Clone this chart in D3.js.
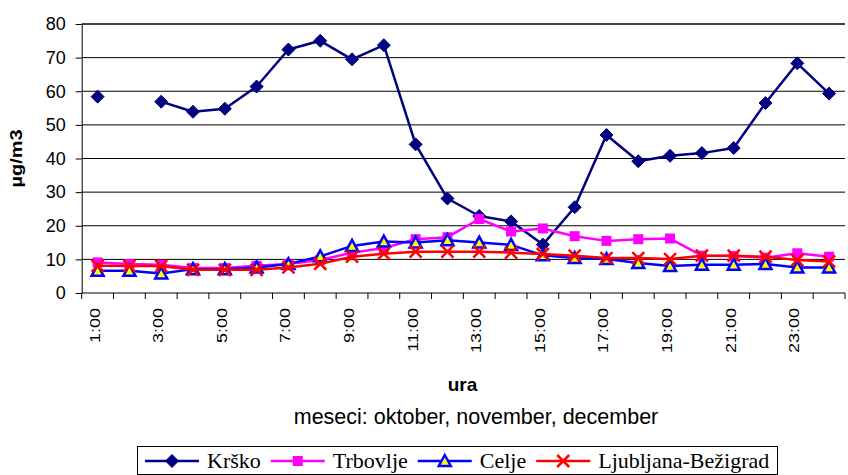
<!DOCTYPE html>
<html lang="sl">
<head>
<meta charset="utf-8">
<title>Koncentracije po urah</title>
<script src="https://cdn.jsdelivr.net/npm/d3@7/dist/d3.min.js"></script>
<style>
  body { margin: 0; background: #fff; }
  text { font-family: "Liberation Sans", Arial, sans-serif; fill: #000; }
  .grid { stroke: #000; stroke-width: 1; }
  .axis path, .axis line { stroke: #000; }
  .legend text { font-family: "Liberation Serif", "Times New Roman", serif; }
</style>
</head>
<body>
<script>
// hours on the x axis
var hours = ['1:00','2:00','3:00','4:00','5:00','6:00','7:00','8:00','9:00','10:00','11:00','12:00',
             '13:00','14:00','15:00','16:00','17:00','18:00','19:00','20:00','21:00','22:00','23:00','24:00'];

// series values (µg/m3); null = missing
var krsko = [58.4, null, 56.9, 53.9, 54.8, 61.4, 72.4, 75.0, 69.5, 73.7, 44.2, 28.1,
             22.9, 21.3, 14.4, 25.5, 47.0, 39.2, 40.8, 41.6, 43.1, 56.5, 68.3, 59.3];
var trbovlje = [9.1, 8.6, 8.4, 7.4, 7.4, 8.1, 8.6, 9.8, 12.0, 13.4, 16.0, 16.6,
                22.0, 18.3, 19.2, 16.9, 15.5, 16.0, 16.2, 11.1, 11.0, 10.5, 11.8, 10.8];
var celje = [6.6, 6.6, 5.8, 7.1, 7.1, 7.6, 8.6, 10.9, 14.0, 15.3, 15.0, 15.7,
             15.0, 14.3, 11.2, 10.4, 10.1, 8.9, 8.0, 8.4, 8.4, 8.6, 7.6, 7.6];
var ljubljana = [8.1, 8.0, 8.0, 6.9, 6.9, 6.9, 7.6, 8.7, 10.8, 11.7, 12.3, 12.3,
                 12.3, 12.0, 11.6, 11.1, 10.4, 10.4, 10.1, 11.1, 11.1, 10.8, 9.8, 9.4];

var seriesNames = ['Krško', 'Trbovlje', 'Celje', 'Ljubljana-Bežigrad'];
var yTicks = [0, 10, 20, 30, 40, 50, 60, 70, 80];

var width = 848, height = 475;
var plotLeft = 81.7, plotRight = 845, plotTop = 24, plotBottom = 293;

var series = [
  { name: seriesNames[0], values: krsko,     color: '#000080', marker: 'diamond' },
  { name: seriesNames[1], values: trbovlje,  color: '#ff00ff', marker: 'square' },
  { name: seriesNames[2], values: celje,     color: '#0000ff', marker: 'triangle' },
  { name: seriesNames[3], values: ljubljana, color: '#ff0000', marker: 'cross' }
];

var svg = d3.select('body').append('svg')
  .attr('width', width)
  .attr('height', height);

var x = d3.scaleBand().domain(hours).range([plotLeft, plotRight]).padding(0);
var y = d3.scaleLinear().domain([0, 80]).range([plotBottom, plotTop]);

// horizontal grid
svg.selectAll('.grid')
  .data(yTicks.filter(function(d){ return d > 0; }))
  .enter().append('line')
  .attr('class', 'grid')
  .attr('x1', plotLeft).attr('x2', plotRight)
  .attr('y1', function(d){ return y(d); })
  .attr('y2', function(d){ return y(d); })
  .style('stroke', function(d){ return d === 80 ? '#444' : '#000'; })
  .style('stroke-width', function(d){ return d === 80 ? 2 : 1; });

// y axis
var yAxis = svg.append('g')
  .attr('class', 'axis')
  .attr('transform', 'translate(' + plotLeft + ',0)')
  .call(d3.axisLeft(y).tickValues(yTicks).tickSize(6).tickPadding(10).tickSizeOuter(0));
yAxis.selectAll('text')
  .style('font-size', '18px')
  .style('font-family', '"Liberation Sans", Arial, sans-serif');

// x axis line + ticks at category boundaries
svg.append('line')
  .attr('x1', plotLeft).attr('x2', plotRight)
  .attr('y1', plotBottom).attr('y2', plotBottom)
  .style('stroke', '#000');
var bounds = hours.map(function(h){ return x(h); }).concat([plotRight]);
svg.selectAll('.xtick')
  .data(bounds)
  .enter().append('line')
  .attr('class', 'xtick')
  .attr('x1', function(d){ return d; }).attr('x2', function(d){ return d; })
  .attr('y1', plotBottom).attr('y2', plotBottom + 6)
  .style('stroke', '#000');

// every second hour label, rotated
svg.selectAll('.xlabel')
  .data(hours.filter(function(d, i){ return i % 2 === 0; }))
  .enter().append('text')
  .attr('class', 'xlabel')
  .attr('text-anchor', 'end')
  .attr('transform', function(d){
    return 'translate(' + (x(d) + x.bandwidth() / 2 + 2) + ',' + 308 + ') rotate(-90) scale(1,0.8)';
  })
  .style('font-size', '18px')
  .text(function(d){ return d; });

// axis titles
svg.append('text')
  .attr('text-anchor', 'middle')
  .attr('transform', 'translate(22,158.5) rotate(-90) scale(1,0.8)')
  .style('font-size', '20px')
  .style('font-weight', 'bold')
  .text('µg/m3');

svg.append('text')
  .attr('x', 462.5).attr('y', 391)
  .attr('text-anchor', 'middle')
  .style('font-size', '19px')
  .style('font-weight', 'bold')
  .text('ura');

svg.append('text')
  .attr('x', 476).attr('y', 424)
  .attr('text-anchor', 'middle')
  .style('font-size', '21.5px')
  .text('meseci: oktober, november, december');

// markers
function drawMarker(g, type, color) {
  if (type === 'diamond') {
    g.append('path').attr('d', 'M0,-6.5L6.5,0L0,6.5L-6.5,0Z').style('fill', color).style('stroke', color);
  } else if (type === 'square') {
    g.append('rect').attr('x', -5).attr('y', -5).attr('width', 10).attr('height', 10).style('fill', color);
  } else if (type === 'triangle') {
    g.append('path').attr('d', 'M0,-6L6,5L-6,5Z')
      .style('fill', '#ffff00').style('stroke', color).style('stroke-width', 2.5);
  } else {
    g.append('path').attr('d', 'M-6,-6L6,6M-6,6L6,-6')
      .style('fill', 'none').style('stroke', color).style('stroke-width', 2.5);
  }
}

var line = d3.line()
  .defined(function(d){ return d != null; })
  .x(function(d, i){ return x(hours[i]) + x.bandwidth() / 2; })
  .y(function(d){ return y(d); });

series.forEach(function(s){
  var g = svg.append('g');
  g.append('path')
    .attr('d', line(s.values))
    .style('fill', 'none')
    .style('stroke', s.color)
    .style('stroke-width', 2.5)
    .style('stroke-linejoin', 'round');
  s.values.forEach(function(v, i){
    if (v == null) return;
    var m = g.append('g')
      .attr('transform', 'translate(' + (x(hours[i]) + x.bandwidth() / 2) + ',' + y(v) + ')');
    drawMarker(m, s.marker, s.color);
  });
});

// legend
var legend = svg.append('g').attr('class', 'legend');
legend.append('rect')
  .attr('x', 137.5).attr('y', 446.5)
  .attr('width', 640).attr('height', 28)
  .style('fill', '#fff').style('stroke', '#000');

var lx = 145;
series.forEach(function(s){
  legend.append('line')
    .attr('x1', lx).attr('x2', lx + 54)
    .attr('y1', 461).attr('y2', 461)
    .style('stroke', s.color).style('stroke-width', 2.5);
  var m = legend.append('g').attr('transform', 'translate(' + (lx + 27) + ',461)');
  drawMarker(m, s.marker, s.color);
  var t = legend.append('text')
    .attr('x', lx + 62).attr('y', 468)
    .style('font-size', '22px')
    .text(s.name);
  lx = lx + 62 + t.node().getComputedTextLength() + 10;
});
</script>
</body>
</html>
